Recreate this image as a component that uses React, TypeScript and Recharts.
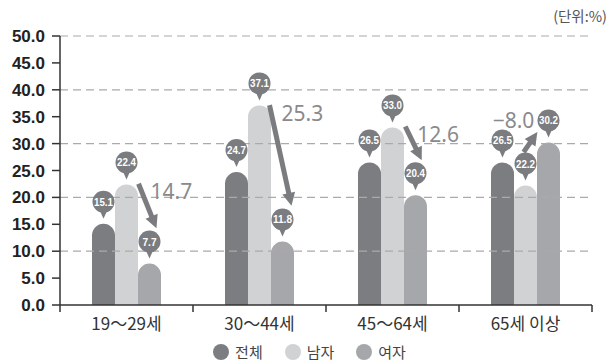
import { BarChart, Bar, XAxis, YAxis, ReferenceLine, LabelList } from 'recharts';

const categories = ['19～29세', '30～44세', '45～64세', '65세 이상'];
const total = [15.1, 24.7, 26.5, 26.5];
const male = [22.4, 37.1, 33.0, 22.2];
const female = [7.7, 11.8, 20.4, 30.2];
const gapLabels = ['14.7', '25.3', '12.6', '−8.0'];
const yTicks = [0, 5, 10, 15, 20, 25, 30, 35, 40, 45, 50];
const gridValues = [10, 20, 30, 40, 50];

const seriesNames = ['전체', '남자', '여자'];
const colors = ['#7c7d81', '#d1d2d4', '#a6a7aa'];
const balloonColor = '#7b7c80';
const axisColor = '#333';

const data = categories.map((name, i) => ({
  name,
  total: total[i],
  male: male[i],
  female: female[i],
}));

const WIDTH = 615;
const HEIGHT = 363;
const MARGIN = { top: 36, right: 23, bottom: 28, left: 0 };
const Y_AXIS_W = 60;
const BAND = (WIDTH - MARGIN.left - MARGIN.right - Y_AXIS_W) / categories.length;

const BALLOON_UP = 22;

const Balloon = ({ cx, top, value }: { cx: number; top: number; value: number }) => {
  const cy = top - BALLOON_UP;
  const txt = Number(value).toFixed(1);
  return (
    <g>
      <path d={`M${cx - 4},${cy + 8} L${cx + 4},${cy + 8} L${cx},${top - 5} Z`} fill={balloonColor} />
      <circle cx={cx} cy={cy} r={11} fill={balloonColor} />
      <text
        x={cx}
        y={cy}
        dy="0.36em"
        textAnchor="middle"
        fill="#fff"
        fontSize={11}
        fontWeight={700}
        textLength={txt.length > 3 ? 19 : 14}
        lengthAdjust="spacingAndGlyphs"
        fontFamily="'Liberation Sans', sans-serif"
      >
        {txt}
      </text>
    </g>
  );
};

const simpleLabel = (props: any) => {
  const { x, y, width, value } = props;
  return <Balloon cx={x + width / 2} top={y} value={value} />;
};

// female labels also carry the male→female arrow and the gap text
const femaleLabel = (props: any) => {
  const { x, y, width, height, value, index } = props;
  const bottom = y + height;
  const perUnit = height / value;
  const maleTop = bottom - male[index] * perUnit;
  const mx = x - width / 2;
  const fx = x + width / 2;
  const my = maleTop - BALLOON_UP;
  const fy = y - BALLOON_UP;
  const dx = fx - mx;
  const dyv = fy - my;
  const len = Math.sqrt(dx * dx + dyv * dyv);
  const ux = dx / len;
  const uy = dyv / len;
  const down = dyv > 0;
  const trim = len > 60 ? 18 : 13;
  const sx = mx + ux * trim + (down ? 7 : -8);
  const sy = my + uy * trim + (down ? 4 : 0);
  const tx = fx - ux * trim + (down ? 12 : -5);
  const ty = fy - uy * trim + (down ? 4 : 0);
  const ax = tx - sx;
  const ay = ty - sy;
  const alen = Math.sqrt(ax * ax + ay * ay);
  const vx = ax / alen;
  const vy = ay / alen;
  const head = 13;
  const half = 6.5;
  const bx = tx - vx * head;
  const by = ty - vy * head;
  const px = -vy;
  const py = vx;
  return (
    <g>
      <Balloon cx={fx} top={y} value={value} />
      <line x1={sx} y1={sy} x2={bx + vx * 2} y2={by + vy * 2} stroke={balloonColor} strokeWidth={5} />
      <path
        d={`M${tx},${ty} L${bx + px * half},${by + py * half} L${bx - px * half},${by - py * half} Z`}
        fill={balloonColor}
      />
      <text
        x={down ? sx + 12 : tx - 3}
        y={down ? sy + 8 : ty - 12}
        dy="0.36em"
        textAnchor={down ? 'start' : 'end'}
        fill="#8a8a8d"
        fontSize={21}
        fontFamily="'Noto Sans', sans-serif"
      >
        {gapLabels[index]}
      </text>
    </g>
  );
};

const XTick = (props: any) => {
  const { x, y, payload, index } = props;
  const left = x - BAND / 2;
  const right = x + BAND / 2;
  return (
    <g>
      <line x1={left} y1={y} x2={left} y2={y + 7} stroke={axisColor} strokeWidth={1.5} />
      {index === categories.length - 1 && (
        <line x1={right} y1={y} x2={right} y2={y + 7} stroke={axisColor} strokeWidth={1.5} />
      )}
      <text
        x={x}
        y={y + 19}
        dy="0.36em"
        textAnchor="middle"
        fill="#333"
        fontSize={17}
        fontFamily="'Noto Sans CJK KR', sans-serif"
      >
        {payload.value}
      </text>
    </g>
  );
};

const App = () => {
  return (
    <div style={{ position: 'absolute', left: 0, top: 0, width: WIDTH, height: HEIGHT, background: '#fff' }}>
      <BarChart width={WIDTH} height={HEIGHT} data={data} margin={MARGIN} barGap={0}>
        {gridValues.map((v) => (
          <ReferenceLine key={v} y={v} stroke="#aaa" strokeWidth={1.2} strokeDasharray="8 5" />
        ))}
        <XAxis
          dataKey="name"
          height={30}
          tickSize={0}
          tickMargin={0}
          tickLine={false}
          axisLine={{ stroke: axisColor, strokeWidth: 1.5 }}
          tick={<XTick />}
          interval={0}
        />
        <YAxis
          width={Y_AXIS_W}
          domain={[0, 50]}
          ticks={yTicks}
          interval={0}
          tickSize={8}
          tickMargin={7}
          tickFormatter={(v) => Number(v).toFixed(1)}
          axisLine={{ stroke: axisColor, strokeWidth: 1.5 }}
          tickLine={{ stroke: axisColor, strokeWidth: 1.5 }}
          tick={{ fill: '#222', fontSize: 17, fontWeight: 700, fontFamily: "'Liberation Sans', sans-serif" }}
        />
        <Bar dataKey="total" fill={colors[0]} barSize={23} radius={[11.5, 11.5, 0, 0]} isAnimationActive={false}>
          <LabelList dataKey="total" content={simpleLabel} />
        </Bar>
        <Bar dataKey="male" fill={colors[1]} barSize={23} radius={[11.5, 11.5, 0, 0]} isAnimationActive={false}>
          <LabelList dataKey="male" content={simpleLabel} />
        </Bar>
        <Bar dataKey="female" fill={colors[2]} barSize={23} radius={[11.5, 11.5, 0, 0]} isAnimationActive={false}>
          <LabelList dataKey="female" content={femaleLabel} />
        </Bar>
      </BarChart>
      <div
        style={{
          position: 'absolute',
          right: 8,
          top: 5,
          fontSize: 14.5,
          color: '#555',
          fontFamily: "'Noto Sans CJK KR', sans-serif",
        }}
      >
        (단위:%)
      </div>
      <div
        style={{
          position: 'absolute',
          left: 0,
          width: WIDTH,
          top: 343,
          display: 'flex',
          justifyContent: 'center',
          paddingLeft: 4,
          boxSizing: 'border-box',
          gap: 22,
          fontFamily: "'Noto Sans CJK KR', sans-serif",
          fontSize: 15,
          color: '#444',
          lineHeight: '18px',
        }}
      >
        {seriesNames.map((n, i) => (
          <div key={n} style={{ display: 'flex', alignItems: 'center' }}>
            <span
              style={{
                display: 'inline-block',
                width: 16,
                height: 16,
                borderRadius: 8,
                background: colors[i],
                marginRight: 6,
              }}
            />
            {n}
          </div>
        ))}
      </div>
    </div>
  );
};

export default App;
